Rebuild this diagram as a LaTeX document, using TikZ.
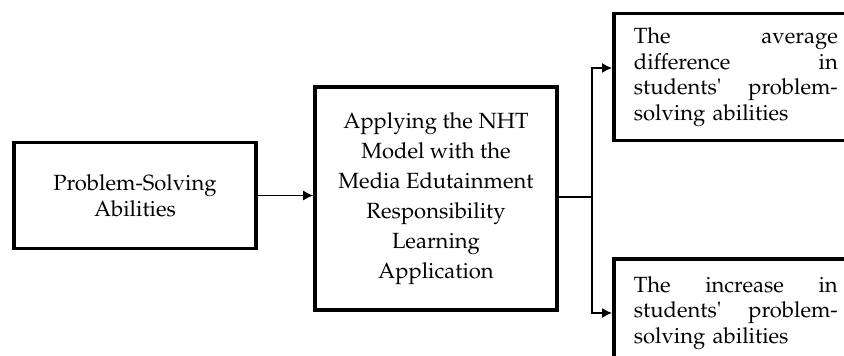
\documentclass[tikz,border=0pt]{standalone}
\usepackage[T1]{fontenc}
\usepackage{mathpazo}
\usetikzlibrary{arrows.meta}
\begin{document}
\begin{tikzpicture}
% Flow chart laid out on a pixel grid
\def\pxsz{0.5pt}
\providecommand{\flowBoxLineWidth}{1.8pt}
\providecommand{\flowLineWidth}{0.7pt}
\providecommand{\flowTextSize}{\fontsize{11}{12.8}\selectfont}
\begin{scope}[x=\pxsz, y=-\pxsz, line join=miter,
  flowbox/.style={draw=black, line width=\flowBoxLineWidth, inner sep=0pt, font=\flowTextSize},
  flowline/.style={draw=black, line width=\flowLineWidth},
  flowarrow/.style={flowline, -{Latex[length=5pt,width=5pt]}}]
  % Page frame, the boxes on the right run past it
  \clip (0,0) rectangle (844,356);
  \fill[white] (0,0) rectangle (844,356);
  % Input and treatment
  \node[flowbox, align=center, minimum width=121pt, minimum height=53pt] (ps) at (135,195.5)
    {Problem-Solving\\Abilities};
  \node[flowbox, align=center, minimum width=121pt, minimum height=111.5pt,
    font=\fontsize{11}{15}\selectfont] (nht) at (436,198.5)
    {Applying the NHT\\Model with the\\Media Edutainment\\Responsibility\\Learning\\Application};
  % Outcomes
  \node[flowbox, anchor=west, text width=102pt, inner xsep=10pt, minimum height=63.5pt] (avg) at (612,77)
    {The\hfill average\\ difference\hfill in\\ students\textquotesingle\hfill problem-\\ solving abilities};
  \node[flowbox, anchor=west, text width=102pt, inner xsep=10pt, minimum height=54pt] (inc) at (612,313)
    {The\hfill increase\hfill in\\ students\textquotesingle\hfill problem-\\ solving abilities};
  % Connectors
  \coordinate (split) at (592,197);
  \draw[flowarrow] (ps.east) -- (nht.west |- ps.east);
  \draw[flowline] (nht.east |- split) -- (split);
  \draw[flowarrow] (split) |- ([yshift=4.5pt]avg.west);
  \draw[flowarrow] (split) |- (inc.west);
\end{scope}
\end{tikzpicture}
\end{document}
